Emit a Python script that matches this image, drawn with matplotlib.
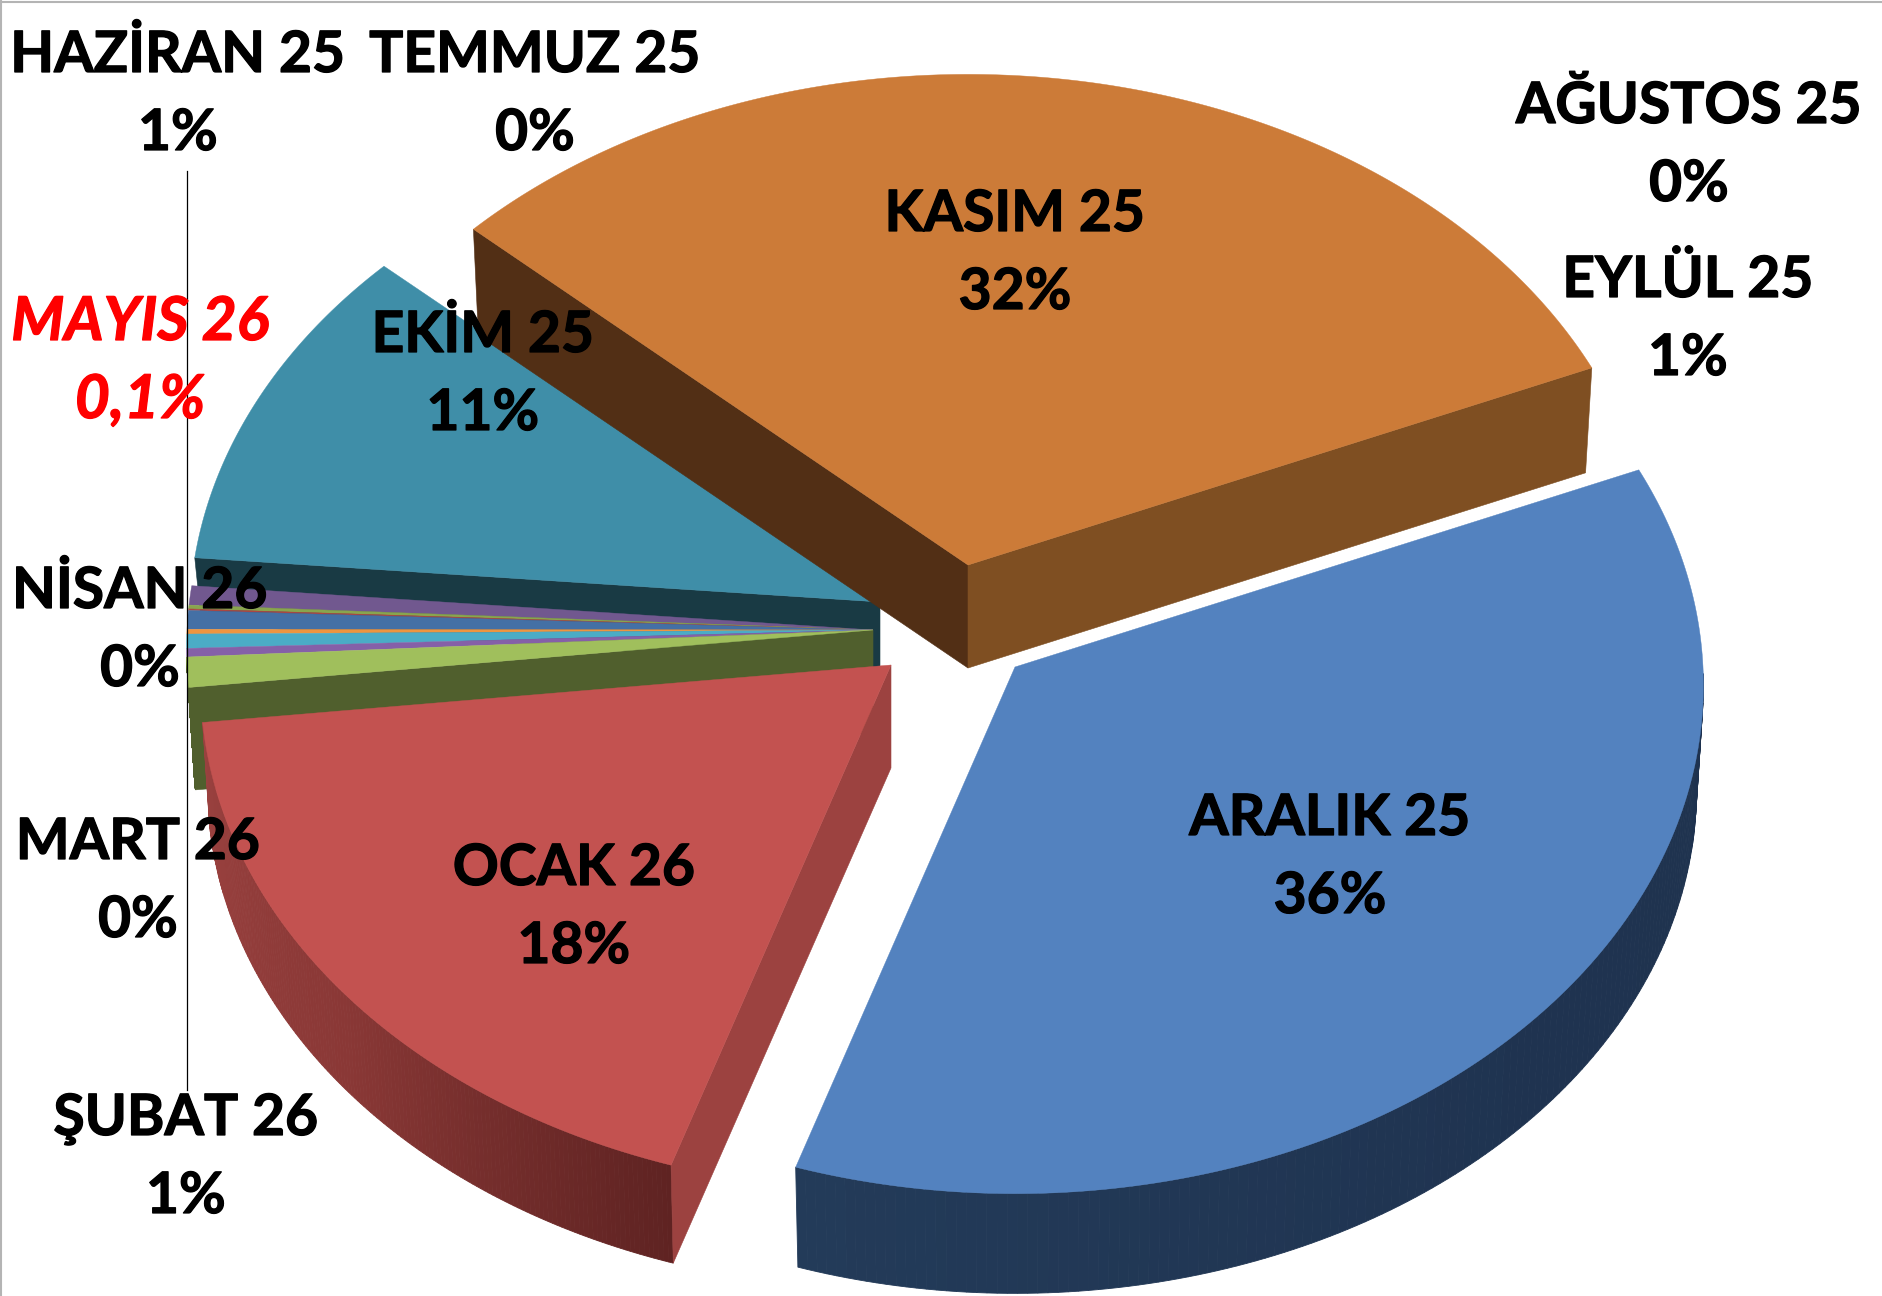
import numpy as np
import matplotlib
matplotlib.use('Agg')
import matplotlib.pyplot as plt
import matplotlib.patheffects as pe
from matplotlib.patches import Polygon

plt.rcParams['font.family'] = ['Lato', 'DejaVu Sans']

# clockwise from the Kasim slice
months = ['KASIM 25', 'ARALIK 25', 'OCAK 26', 'ŞUBAT 26', 'MART 26', 'NİSAN 26',
          'MAYIS 26', 'HAZİRAN 25', 'TEMMUZ 25', 'AĞUSTOS 25', 'EYLÜL 25', 'EKİM 25']
values = [31.73, 36.42, 18.22, 0.95, 0.27, 0.45, 0.15, 0.59, 0.05, 0.12, 0.61, 10.44]
pct_labels = ['32%', '36%', '18%', '1%', '0%', '0%', '0,1%', '1%', '0%', '0%', '1%', '11%']
top_colors = ['#cc7b38', '#5382bf', '#c35250', '#a0bf5c', '#8560a8', '#4bacc6',
              '#ee9540', '#4470a5', '#aa4643', '#89a54e', '#71588f', '#3f8ea8']
start_angle = 137.4

# apex x, apex y, radius x, radius y, depth
geom_small = (873, 630, 686, 508, 103)
geom = {
    'KASIM 25': (968, 565, 688, 508, 103),
    'ARALIK 25': (1015, 667, 688, 508, 105),
    'OCAK 26': (891, 665, 690, 508, 103),
    'EKİM 25': (880, 602, 690, 508, 66),
}
PERSP = 0.0354  # back of the pie is further away
SHRINK = 0.99

# radial wall colours: (which edge, colour), outer wall gradient
radial_walls = {
    'KASIM 25': [('start', '#522f15'), ('end', '#7f4f22')],
    'OCAK 26': [('start', '#9c4240')],
    'EKİM 25': [('start', '#193a44')],
    'ŞUBAT 26': [('start', '#505f2d')],
}
arc_walls = {
    'ARALIK 25': ('#233b59', '#1f3350', '#1e324e'),
    'OCAK 26': ('#9a413f', '#8a3836', '#5f2322'),
    'ŞUBAT 26': ('#505f2d', '#505f2d', '#505f2d'),
}

# label centre x, first line baseline
label_pos = {
    'KASIM 25': (1015, 231), 'ARALIK 25': (1330, 835), 'OCAK 26': (574, 885),
    'ŞUBAT 26': (186, 1135), 'MART 26': (138, 859), 'NİSAN 26': (140, 608),
    'MAYIS 26': (140, 340), 'HAZİRAN 25': (178, 72), 'TEMMUZ 25': (535, 72),
    'AĞUSTOS 25': (1689, 123), 'EYLÜL 25': (1688, 297), 'EKİM 25': (483, 352),
}


def ellipse_pts(g, thetas, lower=False):
    x0, y0, a, b, d = g
    t = np.radians(thetas)
    w = 1 + PERSP * np.sin(t)
    dx = a * np.cos(t) / w
    dy = -b * np.sin(t) / w
    if lower:
        return np.column_stack([x0 + SHRINK * dx, y0 + d + SHRINK * dy])
    return np.column_stack([x0 + dx, y0 + dy])


def mix(c1, c2, f):
    c1 = np.array(matplotlib.colors.to_rgb(c1))
    c2 = np.array(matplotlib.colors.to_rgb(c2))
    return c1 + (c2 - c1) * f


def draw_slice(ax, name, th1, th2, color):
    g = geom.get(name, geom_small)
    x0, y0, a, b, d = g

    # outer wall, only the lower half of the ring faces the viewer
    if name in arc_walls:
        c1, c2, c3 = arc_walls[name]
        lo, hi = -180, 0
        th = np.linspace(th1, th2, 160)
        th_wrapped = (th + 180) % 360 - 180
        for i in range(len(th) - 1):
            if not (lo <= th_wrapped[i] <= hi and lo <= th_wrapped[i + 1] <= hi):
                continue
            seg = np.array([th[i], th[i + 1]])
            quad = np.vstack([ellipse_pts(g, seg), ellipse_pts(g, seg[::-1], lower=True)])
            f = i / (len(th) - 2)
            if f < 0.5:
                col = mix(c3, c2, f * 2)
            else:
                col = mix(c2, c1, (f - 0.5) * 2)
            ax.add_patch(Polygon(quad, closed=True, facecolor=col, edgecolor=col, lw=0.6))

    # cut faces
    for edge, col in radial_walls.get(name, []):
        ang = th1 if edge == 'start' else th2
        p_top = ellipse_pts(g, [ang])[0]
        p_low = ellipse_pts(g, [ang], lower=True)[0]
        quad = [(x0, y0), p_top, p_low, (x0, y0 + d)]
        ax.add_patch(Polygon(quad, closed=True, facecolor=col, edgecolor=col, lw=0.4))

    th = np.linspace(th1, th2, 200)
    pts = np.vstack([[x0, y0], ellipse_pts(g, th)])
    ax.add_patch(Polygon(pts, closed=True, facecolor=color, edgecolor=color, lw=0.3))


fig = plt.figure(figsize=(18.82, 12.96), dpi=100)
ax = fig.add_axes([0, 0, 1, 1])
ax.set_xlim(0, 1882)
ax.set_ylim(1296, 0)
ax.axis('off')

spans = np.array(values) / sum(values) * 360
ends = start_angle - np.cumsum(spans)
starts = ends + spans
slices = {m: (s, e, c) for m, s, e, c in zip(months, starts, ends, top_colors)}

# back to front
order = ['EKİM 25', 'EYLÜL 25', 'AĞUSTOS 25', 'TEMMUZ 25', 'HAZİRAN 25', 'MAYIS 26',
         'NİSAN 26', 'MART 26', 'ŞUBAT 26', 'KASIM 25', 'OCAK 26', 'ARALIK 25']
for m in order:
    s, e, c = slices[m]
    draw_slice(ax, m, s, e, c)

# picture frame and stray axis line
ax.plot([1.5, 1.5], [0, 1296], color='#b4b4b4', lw=1.5, zorder=5)
ax.plot([0, 1882], [1.5, 1.5], color='#b4b4b4', lw=1.5, zorder=5)
ax.plot([187.5, 187.5], [171, 1090], color='black', lw=0.9, zorder=6)

FS = 41
for m, pct in zip(months, pct_labels):
    x, y = label_pos[m]
    col = '#ff0000' if m == 'MAYIS 26' else 'black'
    kw = dict(ha='center', va='baseline', fontsize=FS, fontweight='bold', color=col, zorder=10,
              path_effects=[pe.withStroke(linewidth=0.9, foreground=col)])
    if m == 'MAYIS 26':
        kw['style'] = 'italic'
        kw['fontsize'] = 43.5
    ax.text(x, y, m, **kw)
    ax.text(x, y + 78, pct, **kw)

fig.savefig('out.png', dpi=100, facecolor='white')
plt.close('all')
